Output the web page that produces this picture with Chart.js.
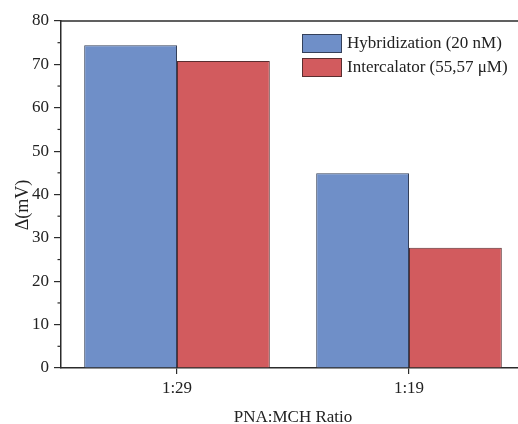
<!DOCTYPE html>
<html>
<head>
<meta charset="utf-8">
<script src="https://cdn.jsdelivr.net/npm/chart.js@4/dist/chart.umd.min.js"></script>
<style>
  html, body { margin: 0; padding: 0; background: #fff; overflow: hidden; }
  #wrap { width: 526px; height: 424px; position: relative; }
</style>
</head>
<body>
<div id="wrap"><canvas id="c"></canvas></div>
<script>
// Categories and measured responses
const categories = ['1:29', '1:19'];
const hybridization = [74.4, 44.9];
const intercalator = [70.8, 27.7];
const seriesLabels = ['Hybridization (20 nM)', 'Intercalator (55,57 \u03bcM)'];
const yMinorTicks = [5, 15, 25, 35, 45, 55, 65, 75];
const yTitle = '\u0394(mV)';
const xTitle = 'PNA:MCH Ratio';

const FONT = 'Liberation Serif';
const AXIS = '#2b2b2b';
const TEXT = '#222';
const fills = ['#6f8fc8', '#d25b5e'];
const edges = ['#34405a', '#5a2e30'];

// Minor ticks, top frame line, y title and an inset legend
const decorations = {
  id: 'decorations',
  afterDraw(chart) {
    const { ctx, chartArea, scales } = chart;
    ctx.save();
    ctx.strokeStyle = AXIS;
    ctx.lineWidth = 1.5;
    // top frame
    ctx.beginPath();
    ctx.moveTo(chartArea.left, chartArea.top);
    ctx.lineTo(chartArea.right, chartArea.top);
    ctx.stroke();
    // minor y ticks
    ctx.lineWidth = 1.2;
    yMinorTicks.forEach(v => {
      const y = scales.y.getPixelForValue(v);
      ctx.beginPath();
      ctx.moveTo(chartArea.left - 3.5, y);
      ctx.lineTo(chartArea.left, y);
      ctx.stroke();
    });
    // y axis title
    ctx.save();
    ctx.translate(23, 205);
    ctx.rotate(-Math.PI / 2);
    ctx.font = '18px "' + FONT + '"';
    ctx.fillStyle = TEXT;
    ctx.textAlign = 'center';
    ctx.textBaseline = 'middle';
    ctx.fillText(yTitle, 0, 0);
    ctx.restore();
    // legend
    ctx.font = '17px "' + FONT + '"';
    ctx.textBaseline = 'middle';
    ctx.textAlign = 'left';
    chart.data.datasets.forEach((ds, i) => {
      const bx = 302, by = 34 + i * 24;
      ctx.fillStyle = ds.backgroundColor;
      ctx.fillRect(bx, by, 40, 19);
      ctx.strokeStyle = ds.borderColor;
      ctx.lineWidth = 1;
      ctx.strokeRect(bx + 0.5, by + 0.5, 39, 18);
      ctx.fillStyle = TEXT;
      ctx.fillText(ds.label, 347, by + 10);
    });
    ctx.restore();
  }
};

new Chart(document.getElementById('c'), {
  type: 'bar',
  data: {
    labels: categories,
    datasets: [
      { label: seriesLabels[0], data: hybridization, backgroundColor: fills[0], borderColor: edges[0], borderWidth: 1 },
      { label: seriesLabels[1], data: intercalator, backgroundColor: fills[1], borderColor: edges[1], borderWidth: 1 }
    ]
  },
  options: {
    responsive: true,
    maintainAspectRatio: false,
    animation: false,
    devicePixelRatio: 1,
    layout: { padding: { top: 21, left: 0, right: 1, bottom: 0 } },
    datasets: { bar: { barPercentage: 1.0, categoryPercentage: 0.8 } },
    plugins: { legend: { display: false }, tooltip: { enabled: false } },
    scales: {
      x: {
        afterFit(s) { s.height = 56; },
        grid: { offset: false, drawOnChartArea: false, drawTicks: true, tickLength: 6, color: AXIS, lineWidth: 1.2 },
        border: { display: true, color: AXIS, width: 1.5 },
        ticks: { color: TEXT, font: { family: FONT, size: 17 }, padding: 4 },
        title: { display: true, text: xTitle, color: TEXT, font: { family: FONT, size: 17, lineHeight: 0.8 }, padding: { top: 0, bottom: 0 } }
      },
      y: {
        min: 0,
        max: 80,
        afterFit(s) { s.width = 61; },
        grid: { drawOnChartArea: false, drawTicks: true, tickLength: 7, color: AXIS, lineWidth: 1.2 },
        border: { display: true, color: AXIS, width: 1.5 },
        ticks: { stepSize: 10, color: TEXT, font: { family: FONT, size: 17 }, padding: 5 }
      }
    }
  },
  plugins: [decorations]
});
</script>
</body>
</html>
